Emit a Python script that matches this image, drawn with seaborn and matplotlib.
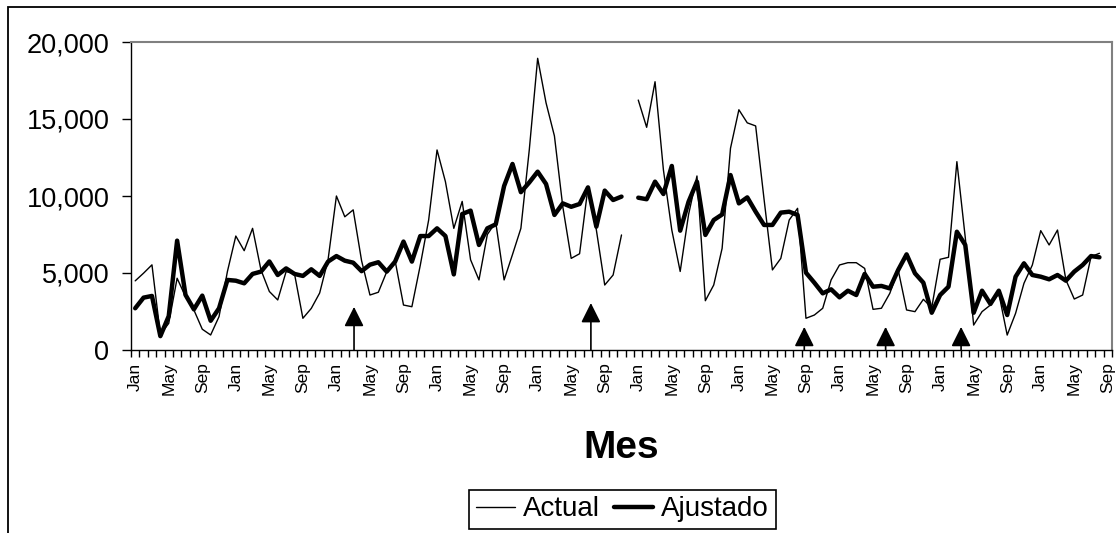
import numpy as np
import pandas as pd
import matplotlib
matplotlib.use("Agg")
import matplotlib.pyplot as plt
import seaborn as sns
from matplotlib.lines import Line2D
from matplotlib.patches import Rectangle, ArrowStyle
from matplotlib.ticker import FuncFormatter

# Monthly series, Jan of year 1 to Sep of year 10 (nan = no data)
nan = np.nan
actual = [4490, 4990, 5530, 1000, 1730, 4660, 3470, 2600, 1350, 975, 2170, 5100,
          7400, 6450, 7900, 5200, 3800, 3250, 5090, 4950, 2060, 2700, 3700, 5850,
          10000, 8650, 9100, 5800, 3570, 3750, 5080, 5800, 2920, 2810, 5500, 8440,
          12990, 10930, 7900, 9650, 5860, 4550, 7500, 8300, 4550, 6200, 7900, 12990,
          18940, 16050, 13900, 9300, 5950, 6250, 10550, 7800, 4220, 4870, 7470, nan,
          16230, 14460, 17420, 11690, 7790, 5100, 8800, 11300, 3200, 4220, 6600, 13100,
          15600, 14750, 14550, 9800, 5200, 5950, 8440, 9200, 2060, 2270, 2710, 4550,
          5520, 5670, 5670, 5300, 2640, 2710, 3680, 5200, 2600, 2490, 3290, 2750,
          5890, 6020, 12230, 7300, 1620, 2490, 2920, 3680, 970, 2380, 4330, 5520,
          7750, 6820, 7790, 4550, 3310, 3570, 6060, 6280, nan]
ajustado = [2710, 3400, 3510, 900, 2200, 7100, 3580, 2640, 3530, 1900, 2710, 4550,
            4500, 4330, 4940, 5090, 5750, 4870, 5300, 4940, 4810, 5240, 4810, 5740,
            6100, 5800, 5670, 5120, 5540, 5700, 5090, 5740, 7040, 5740, 7400, 7400,
            7900, 7400, 4910, 8830, 9050, 6820, 7900, 8160, 10650, 12080, 10250, 10880,
            11580, 10780, 8770, 9520, 9300, 9480, 10560, 8010, 10350, 9740, 9960, nan,
            9890, 9790, 10930, 10130, 11950, 7750, 9630, 10930, 7470, 8440, 8800, 11360,
            9520, 9910, 8980, 8120, 8120, 8920, 8980, 8770, 5020, 4370, 3680, 3940,
            3420, 3850, 3570, 4940, 4110, 4160, 4000, 5200, 6210, 4980, 4370, 2420,
            3570, 4110, 7680, 6820, 2420, 3850, 2990, 3850, 2270, 4760, 5630, 4870,
            4760, 4590, 4870, 4500, 5090, 5520, 6100, 6020, nan]
tick_labels = ["Jan", "May", "Sep"] * 10

# intervention markers (month index, arrow tip height)
arrow_month = [26.1, 54.35, 79.8, 89.5, 98.5]
arrow_top = [2800, 3050, 1500, 1500, 1500]

df = pd.DataFrame({"mes": np.arange(len(actual)), "actual": actual, "ajustado": ajustado})
# split into segments so the missing month leaves a gap
df["seg"] = df["actual"].isna().cumsum()
df = df.dropna()

sns.set_style("white")
plt.rcParams["font.family"] = ["Liberation Sans", "DejaVu Sans"]
for k in ["text.color", "axes.labelcolor", "xtick.color", "ytick.color"]:
    plt.rcParams[k] = "black"

fig = plt.figure(figsize=(11.16, 5.33), dpi=100)
ax = fig.add_axes([131 / 1116, 1 - 350 / 533, (1112 - 131) / 1116, 308 / 533])

sns.lineplot(data=df, x="mes", y="actual", units="seg", estimator=None,
             color="black", lw=1.0, ax=ax)
sns.lineplot(data=df, x="mes", y="ajustado", units="seg", estimator=None,
             color="black", lw=3.2, ax=ax)

for xm, top in zip(arrow_month, arrow_top):
    ax.annotate("", xy=(xm, top), xytext=(xm, 0),
                arrowprops=dict(arrowstyle=ArrowStyle("-|>", head_length=0.6, head_width=0.3),
                                mutation_scale=20, color="black", lw=1.2,
                                shrinkA=0, shrinkB=0))

n = len(actual)
ax.set_xlim(-0.5, n - 0.5)
ax.set_ylim(0, 20000)
ax.set_yticks([0, 5000, 10000, 15000, 20000])
ax.yaxis.set_major_formatter(FuncFormatter(lambda v, p: f"{int(v):,}"))
ax.set_xticks(np.arange(0, n, 4))
ax.set_xticklabels(tick_labels, rotation=90, fontsize=12.5)
ax.set_xticks(np.arange(n + 1) - 0.5, minor=True)
ax.tick_params(axis="x", which="major", length=0, pad=9)
ax.tick_params(axis="x", which="minor", length=5, width=1, direction="out", bottom=True)
ax.tick_params(axis="y", which="major", length=6.5, width=1, direction="out",
               left=True, labelsize=19.5, pad=9)

for s in ["left", "bottom"]:
    ax.spines[s].set_color("black")
    ax.spines[s].set_linewidth(1.0)
for s in ["top", "right"]:
    ax.spines[s].set_color("#808080")
    ax.spines[s].set_linewidth(1.5)

ax.set_ylabel("")
ax.set_xlabel("Mes", fontsize=28, fontweight="bold", va="top")
ax.xaxis.set_label_coords(0.5, -0.26)

handles = [Line2D([], [], color="black", lw=1.0), Line2D([], [], color="black", lw=3.2)]
leg = fig.legend(handles, ["Actual", "Ajustado"], loc="center",
                 bbox_to_anchor=(0.5578, 0.0441), ncol=2, frameon=True, fancybox=False,
                 edgecolor="black", framealpha=1, fontsize=20, handlelength=1.4,
                 handletextpad=0.3, columnspacing=0.5, borderpad=0.25)
leg.get_frame().set_linewidth(1.2)

# outer chart frame
fig.patches.append(Rectangle((8 / 1116, -0.5), 2, 0.5 + 526 / 533, transform=fig.transFigure,
                             fill=False, ec="black", lw=1.3))

fig.savefig("out.png", dpi=100)
